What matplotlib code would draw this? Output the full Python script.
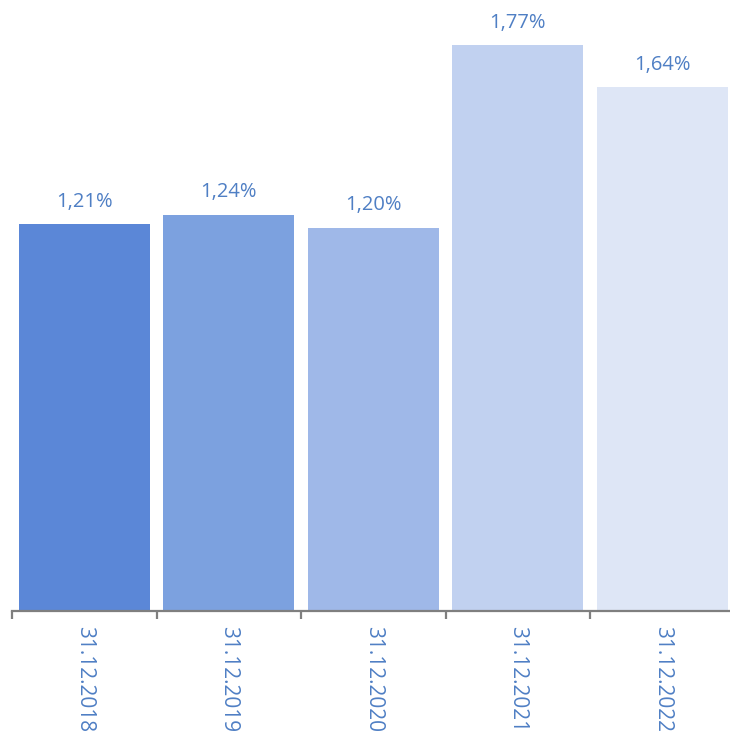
import matplotlib.pyplot as plt
import numpy as np

dates = ["31.12.2018", "31.12.2019", "31.12.2020", "31.12.2021", "31.12.2022"]
rates = [1.21, 1.24, 1.20, 1.77, 1.64]
bar_colors = ["#5b87d7", "#7ca1df", "#9fb8e8", "#c1d1f0", "#dee6f6"]

text_color = "#4f7fc4"
plt.rcParams['font.family'] = ['Open Sans', 'DejaVu Sans']

fig = plt.figure(figsize=(7.3, 7.37), dpi=100)
ax = fig.add_axes([12 / 730, 1 - 611 / 737, 722.5 / 730, 611 / 737])

x = np.arange(len(dates))
bars = ax.bar(x, rates, width=0.91, color=bar_colors)

for b, v in zip(bars, rates):
    ax.annotate(f"{v:.2f}%".replace(".", ","),
                (b.get_x() + b.get_width() / 2, v),
                xytext=(0, 9), textcoords="offset points",
                ha="center", va="bottom", fontsize=14.5, color=text_color)

ax.set_xlim(-0.5, len(dates) - 0.5)
ax.set_ylim(0, 611 / 319.5)

for side in ["top", "right", "left"]:
    ax.spines[side].set_visible(False)
ax.spines["bottom"].set_color("#7f7f7f")
ax.spines["bottom"].set_linewidth(1.6)

ax.set_yticks([])
ax.set_xticks(x)
ax.set_xticklabels(dates, rotation=270, fontsize=15, color=text_color,
                   ha="center", va="top")
ax.tick_params(axis="x", which="major", length=0, pad=11)
ax.set_xticks(np.arange(-0.5, len(dates)), minor=True)
ax.tick_params(axis="x", which="minor", length=6, width=1.6, color="#7f7f7f")

fig.savefig("out.png", dpi=100)
